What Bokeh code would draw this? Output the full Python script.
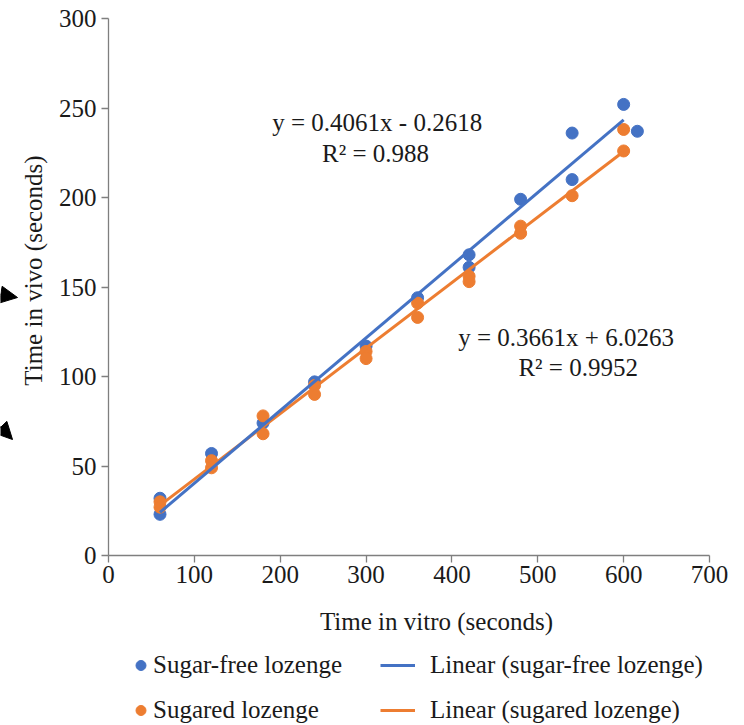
import math

from bokeh.plotting import figure
from bokeh.layouts import column, row
from bokeh.models import (Range1d, SingleIntervalTicker, Legend, LegendItem,
                          Label, Arrow, NormalHead)
from bokeh.embed import file_html
from bokeh.resources import INLINE

# In vitro vs in vivo dissolution times (seconds)
sugar_free_x = [60, 60, 120, 180, 240, 300, 360, 420, 420, 480, 540, 540, 600, 616]
sugar_free_y = [32, 23, 57, 74, 97, 117, 144, 168, 161, 199, 236, 210, 252, 237]

sugared_x = [60, 60, 120, 120, 180, 180, 240, 240, 300, 300, 360, 360,
             420, 420, 480, 480, 540, 600, 600]
sugared_y = [30, 27, 53, 49, 78, 68, 95, 90, 114, 110, 141, 133,
             156, 153, 184, 180, 201, 238, 226]

# Linear trendlines (reported fits)
sugar_free_fit = {"slope": 0.4061, "intercept": -0.2618, "r2": "0.988"}
sugared_fit = {"slope": 0.3661, "intercept": 6.0263, "r2": "0.9952"}
trend_span = [60, 600]

FONT = "Liberation Serif"
BLUE = "#4472C4"
ORANGE = "#ED7D31"
TEXT = "#1a1a1a"
AXIS = "#7f7f7f"
FS = "25px"

TOP, BOTTOM = 18, 45   # vertical borders around the plotting frame


def blank(width, height, top=0, bottom=0):
    """A figure without axes; its frame is addressed in pixels, y pointing down."""
    f = figure(width=width, height=height, output_backend="svg", toolbar_location=None,
               x_axis_type=None, y_axis_type=None,
               x_range=Range1d(0, width), y_range=Range1d(height - bottom, top),
               min_border=0, min_border_left=0, min_border_right=0,
               min_border_top=top, min_border_bottom=bottom)
    f.outline_line_color = None
    f.grid.grid_line_color = None
    return f


def add_text(fig, x, y, text, angle=0.0):
    fig.add_layout(Label(x=x, y=y, text=text, angle=angle,
                         text_align="center", text_baseline="middle",
                         text_font=FONT, text_font_size=FS, text_color=TEXT))


# ---- main scatter plot ----
p = figure(width=694, height=600, output_backend="svg", toolbar_location=None,
           x_range=Range1d(0, 700), y_range=Range1d(0, 300),
           min_border_left=58, min_border_right=35,
           min_border_top=TOP, min_border_bottom=BOTTOM)
p.outline_line_color = None
p.grid.grid_line_color = None

p.xaxis.ticker = SingleIntervalTicker(interval=100)
p.yaxis.ticker = SingleIntervalTicker(interval=50)
for ax in (p.xaxis, p.yaxis):
    ax.axis_line_color = AXIS
    ax.axis_line_width = 1.3
    ax.major_tick_line_color = AXIS
    ax.major_tick_line_width = 1.3
    ax.major_tick_out = 7
    ax.major_tick_in = 0
    ax.minor_tick_line_color = None
    ax.major_label_text_font = FONT
    ax.major_label_text_font_size = FS
    ax.major_label_text_color = TEXT
p.xaxis.major_label_standoff = 3
p.yaxis.major_label_standoff = 5


def fit_line(fit):
    xs = list(trend_span)
    ys = [fit["slope"] * x + fit["intercept"] for x in xs]
    return xs, ys


p.scatter(sugar_free_x, sugar_free_y, size=12, color=BLUE)
p.scatter(sugared_x, sugared_y, size=12, color=ORANGE)

sg_lx, sg_ly = fit_line(sugared_fit)
p.line(sg_lx, sg_ly, line_color=ORANGE, line_width=3)
sf_lx, sf_ly = fit_line(sugar_free_fit)
p.line(sf_lx, sf_ly, line_color=BLUE, line_width=3)

# Trendline equations
add_text(p, 313, 242, f"y = {sugar_free_fit['slope']}x - {abs(sugar_free_fit['intercept'])}")
add_text(p, 311, 224.6, f"R\u00b2 = {sugar_free_fit['r2']}")
add_text(p, 533, 121.8, f"y = {sugared_fit['slope']}x + {sugared_fit['intercept']}")
add_text(p, 547, 105, f"R\u00b2 = {sugared_fit['r2']}")

# ---- left strip: y-axis title and pointer arrows ----
left = blank(50, 600, top=TOP, bottom=BOTTOM)
add_text(left, 33, 270, "Time in vivo (seconds)", angle=math.pi / 2)
for xs, ys, xe, ye in [(-30, 289, 17, 297), (-14, 412, 12, 439)]:
    left.add_layout(Arrow(end=NormalHead(size=17, fill_color="black", line_color="black"),
                          x_start=xs, y_start=ys, x_end=xe, y_end=ye,
                          line_color="black", line_width=1.5))

# ---- bottom strip: x-axis title and legend ----
bottom = blank(744, 125)
add_text(bottom, 436, 21, "Time in vitro (seconds)")

# legend keys: styled proxies kept outside the visible frame
off = [-100, -90]
k_sf = bottom.scatter(x=off[:1], y=off[:1], size=12, color=BLUE)
k_sg = bottom.scatter(x=off[:1], y=off[:1], size=12, color=ORANGE)
k_sf_line = bottom.line(x=off, y=off, line_color=BLUE, line_width=3)
k_sg_line = bottom.line(x=off, y=off, line_color=ORANGE, line_width=3)

legend_style = dict(glyph_height=30, label_height=30, spacing=15, padding=0, margin=0,
                    border_line_color=None, background_fill_alpha=0,
                    label_text_font=FONT, label_text_font_size=FS,
                    label_text_color=TEXT)
bottom.add_layout(Legend(items=[LegendItem(label="Sugar-free lozenge", renderers=[k_sf]),
                                LegendItem(label="Sugared lozenge", renderers=[k_sg])],
                         location=(128, 0), glyph_width=25, label_standoff=0,
                         **legend_style))
bottom.add_layout(Legend(items=[LegendItem(label="Linear (sugar-free lozenge)", renderers=[k_sf_line]),
                                LegendItem(label="Linear (sugared lozenge)", renderers=[k_sg_line])],
                         location=(380, 0), glyph_width=35, label_standoff=15,
                         **legend_style))

layout = column(row(left, p, spacing=0), bottom, spacing=0)
open("out.html", "w").write(file_html(layout, INLINE))
